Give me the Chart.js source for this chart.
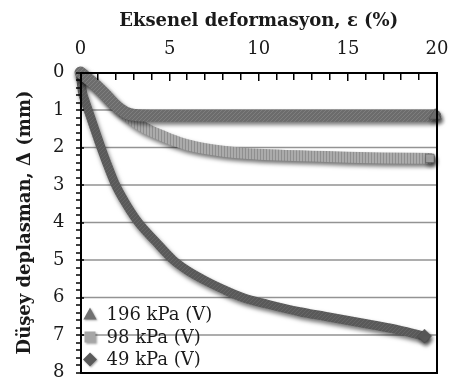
<!DOCTYPE html>
<html>
<head>
<meta charset="utf-8">
<script src="https://cdn.jsdelivr.net/npm/chart.js@4/dist/chart.umd.min.js"></script>
<style>
  html, body { margin: 0; padding: 0; background: #ffffff; }
  #wrap { width: 450px; height: 386px; }
</style>
</head>
<body>
<div id="wrap"><canvas id="c" width="450" height="386"></canvas></div>
<script>
// Axial strain (%) against vertical displacement (mm), one curve per confining pressure.
const strain196 = [0, 0.5, 1.0, 1.5, 1.9, 2.3, 2.7, 3.2, 4, 5, 6, 8, 10, 12, 14, 16, 18, 19.9];
const disp196   = [0, 0.2, 0.4, 0.65, 0.85, 1.0, 1.1, 1.14, 1.15, 1.15, 1.15, 1.15, 1.15, 1.15, 1.15, 1.15, 1.15, 1.15];

const strain98 = [0, 0.3, 0.6, 1.0, 1.4, 1.8, 2.2, 2.6, 3.0, 3.5, 4.0, 4.5, 5.0, 6.0, 7.0, 8.0, 9.0, 10.0, 11.5, 13.0, 15.0, 17.0, 19.6];
const disp98   = [0, 0.1, 0.22, 0.4, 0.58, 0.78, 0.98, 1.15, 1.3, 1.45, 1.57, 1.67, 1.77, 1.93, 2.03, 2.1, 2.15, 2.18, 2.21, 2.23, 2.26, 2.28, 2.29];

const strain49 = [0, 0.05, 0.12, 0.25, 0.5, 0.8, 1.15, 1.5, 1.95, 2.55, 3.25, 4.2, 5.2, 6.0, 7.0, 8.0, 9.1, 10.5, 12.3, 13.7, 15.1, 16.5, 17.9, 19.3];
const disp49   = [0, 0.3, 0.55, 0.75, 1.1, 1.52, 2.0, 2.45, 2.98, 3.5, 4.0, 4.5, 5.0, 5.28, 5.55, 5.78, 6.0, 6.18, 6.38, 6.5, 6.62, 6.74, 6.87, 7.03];

const seriesLabels = ['196 kPa (V)', '98 kPa (V)', '49 kPa (V)'];
const strainRange = [0, 20];
const dispRange = [0, 8];
const strainMajorStep = 5, strainMinorStep = 1;
const dispMajorStep = 1, dispMinorStep = 0.2;
const xTitle = 'Eksenel deformasyon, ε (%)';
const yTitle = 'Düşey deplasman, Δ (mm)';

const SERIF = "'DejaVu Serif', 'Liberation Serif', serif";
const INK = '#1a1a1a';

function toPoints(xs, ys) { return xs.map((x, i) => ({ x: x, y: ys[i] })); }

// Small texture tiles that mimic densely packed markers along each band
function stripePattern(base, stripe, w, h, diagonal) {
  const c = document.createElement('canvas');
  c.width = w; c.height = h;
  const g = c.getContext('2d');
  g.fillStyle = base; g.fillRect(0, 0, w, h);
  g.strokeStyle = stripe; g.lineWidth = 1;
  g.beginPath();
  if (diagonal) { g.moveTo(0, h); g.lineTo(w, 0); }
  else { g.moveTo(w - 0.5, 0); g.lineTo(w - 0.5, h); }
  g.stroke();
  return g.createPattern(c, 'repeat');
}

const styles = [
  { band: stripePattern('#6c6c6c', '#7e7e7e', 4, 4, true),  marker: '#707070', width: 12, pointStyle: 'triangle', radius: 7, legendR: 7 },
  { band: stripePattern('#ababab', '#8f8f8f', 3, 3, false), marker: '#a6a6a6', width: 11, pointStyle: 'rect',     radius: 6, legendR: 5.5 },
  { band: stripePattern('#595959', '#666666', 4, 4, true),  marker: '#5a5a5a', width: 9,  pointStyle: 'rectRot',  radius: 7, legendR: 7 }
];

function makeDataset(label, pts, st) {
  return {
    label: label,
    data: pts,
    borderColor: st.band,
    borderWidth: st.width,
    borderCapStyle: 'round',
    borderJoinStyle: 'round',
    cubicInterpolationMode: 'monotone',
    pointStyle: st.pointStyle,
    pointRadius: c => (c.dataIndex === c.dataset.data.length - 1 ? st.radius : 0),
    pointHoverRadius: 0,
    pointBorderColor: '#4a4a4a',
    pointBorderWidth: 0.5,
    pointBackgroundColor: st.marker,
    fill: false,
    clip: false
  };
}

function drawMarker(ctx, style, x, y, r, fill) {
  ctx.beginPath();
  if (style === 'triangle') {
    ctx.moveTo(x, y - r);
    ctx.lineTo(x + r * 0.95, y + r * 0.7);
    ctx.lineTo(x - r * 0.95, y + r * 0.7);
  } else if (style === 'rect') {
    ctx.rect(x - r, y - r, 2 * r, 2 * r);
  } else {
    ctx.moveTo(x, y - r);
    ctx.lineTo(x + r, y);
    ctx.lineTo(x, y + r);
    ctx.lineTo(x - r, y);
  }
  ctx.closePath();
  ctx.fillStyle = fill;
  ctx.fill();
}

// Plot frame as solid bars, plus inward ticks on the top axis and outward ticks on the left axis
function drawFrameAndTicks(chart) {
  const ctx = chart.ctx;
  const a = chart.chartArea;
  const L = Math.round(a.left), R = Math.round(a.right), T = Math.round(a.top), B = Math.round(a.bottom);
  const xs = chart.scales.x, ys = chart.scales.y;
  ctx.save();
  ctx.fillStyle = '#000000';
  ctx.fillRect(L - 1, T - 1, R - L + 2, 2);
  ctx.fillRect(L - 1, B - 1, R - L + 2, 2);
  ctx.fillRect(L - 1, T - 1, 2, B - T + 2);
  ctx.fillRect(R - 1, T - 1, 2, B - T + 2);

  for (let v = xs.min; v <= xs.max + 1e-9; v += strainMinorStep) {
    const px = Math.round(xs.getPixelForValue(v));
    const major = Math.abs(v / strainMajorStep - Math.round(v / strainMajorStep)) < 1e-6;
    ctx.fillRect(px - 1, T, 1.5, major ? 8 : 7);
  }
  for (let v = ys.min; v <= ys.max + 1e-9; v += dispMinorStep) {
    const py = Math.round(ys.getPixelForValue(v));
    const major = Math.abs(v / dispMajorStep - Math.round(v / dispMajorStep)) < 1e-6;
    ctx.fillRect(L - 5, py - 0.75, major ? 8 : 5, 1.5);
  }
  ctx.restore();
}

// Grid under the bands; drop shadow on each band; frame, ticks and legend on top
const plotDecor = {
  id: 'plotDecor',
  beforeDatasetsDraw(chart) {
    const ctx = chart.ctx;
    const { left, right } = chart.chartArea;
    const ys = chart.scales.y;
    ctx.save();
    ctx.fillStyle = '#939393';
    for (let v = ys.min + dispMajorStep; v < ys.max - 1e-9; v += dispMajorStep) {
      const py = ys.getPixelForValue(v);
      ctx.fillRect(left, py - 0.75, right - left, 1.5);
    }
    ctx.restore();
  },
  beforeDatasetDraw(chart) {
    const ctx = chart.ctx;
    ctx.save();
    ctx.shadowColor = 'rgba(0,0,0,0.55)';
    ctx.shadowBlur = 4;
    ctx.shadowOffsetX = 1.5;
    ctx.shadowOffsetY = 3;
  },
  afterDatasetDraw(chart) {
    chart.ctx.restore();
  },
  afterDatasetsDraw(chart) {
    drawFrameAndTicks(chart);
    const ctx = chart.ctx;
    const { left, bottom } = chart.chartArea;
    const rowH = 22.5;
    const n = chart.data.datasets.length;
    ctx.save();
    ctx.font = '18px ' + SERIF;
    ctx.textBaseline = 'middle';
    ctx.textAlign = 'left';
    chart.data.datasets.forEach((ds, i) => {
      const y = bottom - 13 - (n - 1 - i) * rowH;
      const st = styles[i];
      ctx.save();
      ctx.shadowColor = 'rgba(0,0,0,0.35)';
      ctx.shadowBlur = 2;
      ctx.shadowOffsetX = 1;
      ctx.shadowOffsetY = 1;
      drawMarker(ctx, st.pointStyle, left + 9.5, y, st.legendR, st.marker);
      ctx.restore();
      ctx.fillStyle = INK;
      ctx.fillText(ds.label, left + 26, y + 1);
    });
    ctx.restore();
  }
};

const LEFT_PAD = 8;
const PLOT_LEFT = 80.5;
const PLOT_TOP = 72.5;

new Chart(document.getElementById('c'), {
  type: 'line',
  data: {
    datasets: [
      makeDataset(seriesLabels[0], toPoints(strain196, disp196), styles[0]),
      makeDataset(seriesLabels[1], toPoints(strain98, disp98), styles[1]),
      makeDataset(seriesLabels[2], toPoints(strain49, disp49), styles[2])
    ]
  },
  options: {
    responsive: false,
    animation: false,
    devicePixelRatio: 1,
    layout: { autoPadding: false, padding: { left: LEFT_PAD, right: 13, top: 0, bottom: 13.5 } },
    plugins: {
      legend: { display: false },
      tooltip: { enabled: false }
    },
    scales: {
      x: {
        type: 'linear',
        position: 'top',
        min: strainRange[0],
        max: strainRange[1],
        ticks: { stepSize: strainMajorStep, padding: 12, color: INK, font: { family: SERIF, size: 18 }, maxRotation: 0 },
        grid: { display: false, drawTicks: false },
        border: { display: false },
        title: {
          display: true,
          text: xTitle,
          color: INK,
          font: { family: SERIF, size: 18, weight: 'bold' },
          padding: { top: 11, bottom: 0 }
        },
        afterFit(scale) {
          scale.height = PLOT_TOP;
          scale.paddingLeft = 0;
          scale.paddingRight = 0;
        }
      },
      y: {
        type: 'linear',
        reverse: true,
        min: dispRange[0],
        max: dispRange[1],
        ticks: { stepSize: dispMajorStep, padding: 16, color: INK, font: { family: SERIF, size: 18 } },
        grid: { display: false, drawTicks: false },
        border: { display: false },
        title: {
          display: true,
          text: yTitle,
          color: INK,
          font: { family: SERIF, size: 18, weight: 'bold' },
          padding: { top: 7, bottom: 0 }
        },
        afterFit(scale) {
          scale.width = PLOT_LEFT - LEFT_PAD;
          scale.paddingTop = 0;
          scale.paddingBottom = 0;
        }
      }
    }
  },
  plugins: [plotDecor]
});
</script>
</body>
</html>
